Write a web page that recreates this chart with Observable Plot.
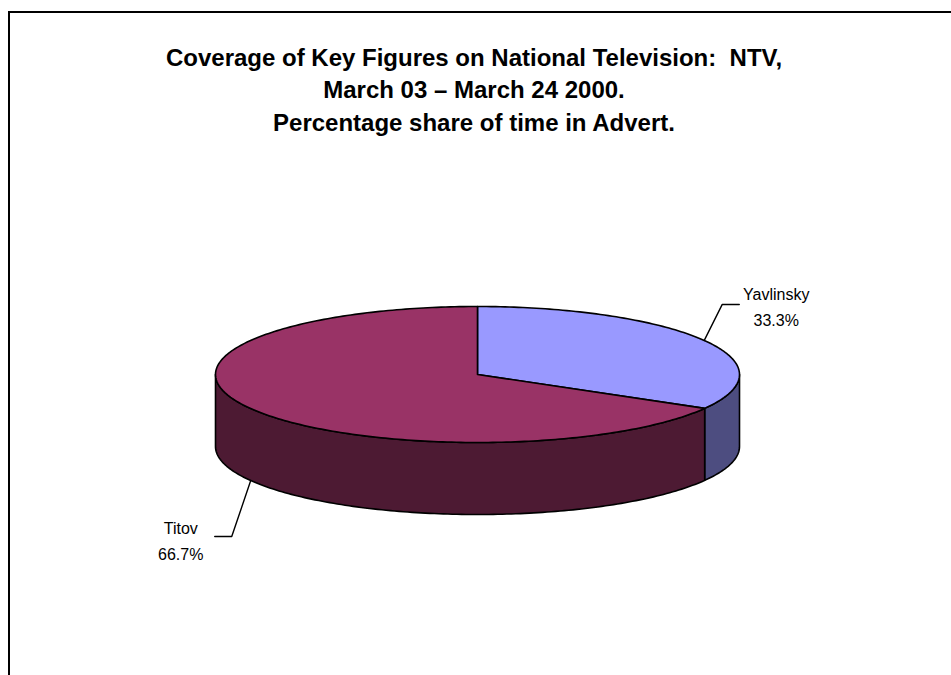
<!DOCTYPE html>
<html>
<head>
<meta charset="utf-8">
<script src="https://cdn.jsdelivr.net/npm/d3@7"></script>
<script src="https://cdn.jsdelivr.net/npm/@observablehq/plot@0.6"></script>
<style>
  html, body { margin: 0; padding: 0; background: #fff; width: 951px; height: 675px; overflow: hidden; }
  #frame { position: absolute; left: 8px; top: 11px; width: 1000px; height: 700px;
           border-left: 2px solid #000; border-top: 2px solid #000; box-sizing: border-box; }
  #chart { position: absolute; left: 0; top: 0; }
</style>
</head>
<body>
<div id="frame"></div>
<div id="chart"></div>
<script>
// ---- data ----
const names = ["Yavlinsky", "Titov"];
const shares = [33.3, 66.7];
const topColors = ["#9999ff", "#993366"];
const sideColors = ["#4d4d80", "#4d1a33"];
const titleLines = [
  "Coverage of Key Figures on National Television:  NTV,",
  "March 03 \u2013 March 24 2000.",
  "Percentage share of time in Advert."
];

// ---- layout (pixels) ----
const CX = 477, CY = 374, RX = 262, RY = 68, DEPTH = 72;
const D = DEPTH / RY; // depth in y units
// label leader layout relative to the rim point: face 0 = top rim, 1 = bottom rim
const labelLayout = [
  {face: 0, elbow: [18, -36], end: [35, -36], text: [72, -36]},
  {face: 1, elbow: [-19, 56], end: [-36, 56], text: [-70, 58]}
];

const total = d3.sum(shares);
const step = Math.PI / 180;
const slices = [];
let acc = 0;
names.forEach((n, i) => {
  const a0 = acc / total * 2 * Math.PI;
  acc += shares[i];
  const a1 = acc / total * 2 * Math.PI;
  slices.push({name: n, i, a0, a1, mid: (a0 + a1) / 2});
});

function arc(a0, a1, dy = 0) {
  const pts = [];
  const n = Math.max(2, Math.ceil((a1 - a0) / step));
  for (let k = 0; k <= n; k++) {
    const a = a0 + (a1 - a0) * k / n;
    pts.push([Math.sin(a), -Math.cos(a) + dy]);
  }
  return pts;
}

// top faces
const topPts = [];
slices.forEach(s => {
  const pts = [[0, 0], ...arc(s.a0, s.a1), [0, 0]];
  pts.forEach(([x, y]) => topPts.push({x, y, id: s.name, fill: topColors[s.i]}));
});
// visible side walls (front half: angle between pi/2 and 3pi/2)
const sidePts = [];
slices.forEach(s => {
  const s0 = Math.max(s.a0, Math.PI / 2), s1 = Math.min(s.a1, 3 * Math.PI / 2);
  if (s1 <= s0) return;
  const upper = arc(s0, s1);
  const lower = arc(s0, s1, D).reverse();
  const pts = [...upper, ...lower, upper[0]];
  pts.forEach(([x, y]) => sidePts.push({x, y, id: s.name, fill: sideColors[s.i]}));
});

// labels and leaders
const leaderPts = [];
const labels = [];
slices.forEach(s => {
  const L = labelLayout[s.i];
  const rx = Math.sin(s.mid), ry = -Math.cos(s.mid) + (L.face ? D : 0);
  const p = (o) => [rx + o[0] / RX, ry + o[1] / RY];
  [[rx, ry], p(L.elbow), p(L.end)].forEach(([x, y]) => leaderPts.push({x, y, id: s.name}));
  const [tx, ty] = p(L.text);
  labels.push({x: tx, y: ty, text: `${s.name}\n${shares[s.i].toFixed(1)}%`});
});

const chart = Plot.plot({
  width: 951,
  height: 675,
  margin: 0,
  style: {fontFamily: "'Liberation Sans', Arial, sans-serif", background: "transparent", overflow: "visible"},
  x: {domain: [-1, 1], range: [CX - RX, CX + RX], axis: null},
  y: {domain: [-1, 1], range: [CY - RY, CY + RY], axis: null},
  marks: [
    Plot.line(sidePts, {x: "x", y: "y", z: "id", fill: "fill", stroke: "#000", strokeWidth: 1.6, strokeLinejoin: "round", curve: "linear"}),
    Plot.line(topPts, {x: "x", y: "y", z: "id", fill: "fill", stroke: "#000", strokeWidth: 1.6, strokeLinejoin: "round", curve: "linear"}),
    Plot.line(leaderPts, {x: "x", y: "y", z: "id", stroke: "#000", strokeWidth: 1.4}),
    Plot.text(labels, {x: "x", y: "y", text: "text", fontSize: 16, lineHeight: 1.65, lineAnchor: "middle", textAnchor: "middle", fill: "#000"}),
    Plot.text([titleLines.join("\n")], {frameAnchor: "top", dx: -2, dy: 42, lineAnchor: "top", fontSize: 24, fontWeight: "bold", lineHeight: 1.354, fill: "#000"})
  ]
});
document.getElementById("chart").appendChild(chart);
</script>
</body>
</html>
